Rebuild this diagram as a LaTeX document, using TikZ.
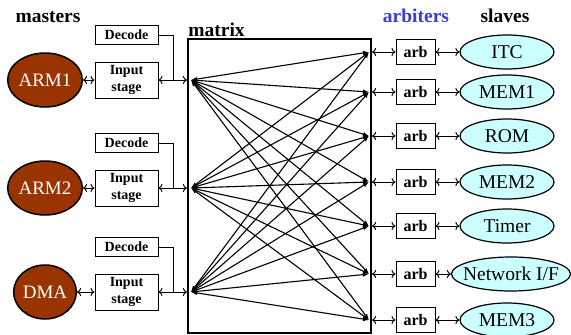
\documentclass[tikz,border=0pt]{standalone}
\usepackage{fontspec}
\setmainfont{Liberation Serif}
\usetikzlibrary{arrows.meta,shapes.geometric}
\definecolor{rust}{RGB}{153,51,0}
\definecolor{paleblue}{RGB}{204,255,255}
\definecolor{arbblue}{RGB}{60,60,215}
\tikzset{>/.tip={To[length=4pt,width=8pt]}}

\begin{document}
\begin{tikzpicture}[x=1pt,y=-1pt,line width=1pt,
  master/.style={ellipse,draw,line width=1.5pt,fill=rust,text=white,minimum width=60pt,
    minimum height=54pt,inner sep=0pt,font=\fontsize{19}{21}\selectfont},
  slave/.style={ellipse,draw,line width=1.2pt,fill=paleblue,minimum width=94pt,
    minimum height=34pt,inner sep=0pt,font=\fontsize{19.5}{21}\selectfont},
  stagebox/.style={draw,fill=white,minimum width=63pt,inner sep=0pt,align=center,
    font=\bfseries\fontsize{14}{16.5}\selectfont},
  arbbox/.style={draw,fill=white,minimum width=39pt,minimum height=25pt,inner sep=0pt,
    font=\bfseries\fontsize{16}{18}\selectfont},
  head/.style={font=\bfseries\fontsize{19.5}{21}\selectfont},
  link/.style={line width=1.1pt,{Latex[length=6pt,width=4.5pt]}-{Latex[length=6pt,width=4.5pt]}}]
\useasboundingbox (0,0) rectangle (571,335);
% titles
\node[head] at (48,17) {masters};
\node[head,text=arbblue] at (416,16) {arbiters};
\node[head] at (505,16) {slaves};
% the matrix
\node[draw,line width=2.2pt,minimum width=183pt,minimum height=294pt,inner sep=0pt] (xbar) at (279.5,186) {};
\node[head,anchor=south west,inner sep=0pt] at ([xshift=1pt,yshift=1pt]xbar.north west) {matrix};
% masters
\foreach \name/\y [count=\i] in {ARM1/80,ARM2/188,DMA/292}
{
  \node[master] (ma\i) at (45,\y) {\name};
  \node[stagebox,minimum height=36pt] (in\i) at (126.5,\y) {Input\\stage};
  \node[stagebox,minimum height=19pt] (dec\i) at (126.5,\y-45) {Decode};
  \coordinate (m\i) at (191,\y);
  \draw[<->] (ma\i) -- (in\i);
  \draw[<->] (in\i) -- (in\i -| xbar.west);
  \draw (dec\i.east) -| ([xshift=15pt]in\i.east);
}
% slaves
\node[slave] (sl1) at (507,52)  {ITC};
\node[slave] (sl2) at (507,92)  {MEM1};
\node[slave] (sl3) at (507,136) {ROM};
\node[slave] (sl4) at (507,182) {MEM2};
\node[slave] (sl5) at (507,226) {Timer};
\node[slave,minimum width=119pt,inner xsep=-10pt] (sl6) at (511,274) {Network I/F};
\node[slave] (sl7) at (507,320) {MEM3};
\foreach \y [count=\j] in {52,92,136,182,226,274,320}
{
  \node[arbbox] (arb\j) at (415.5,\y) {arb};
  \coordinate (s\j) at (369,\y);
  \draw[<->] (xbar.east |- arb\j) -- (arb\j);
  \draw[<->] (arb\j) -- (sl\j);
}
% every master to every slave
\foreach \i in {1,2,3}
{
  \foreach \j in {1,...,7}
  {
    \draw[link] (m\i) -- (s\j);
  }
}
\end{tikzpicture}
\end{document}
